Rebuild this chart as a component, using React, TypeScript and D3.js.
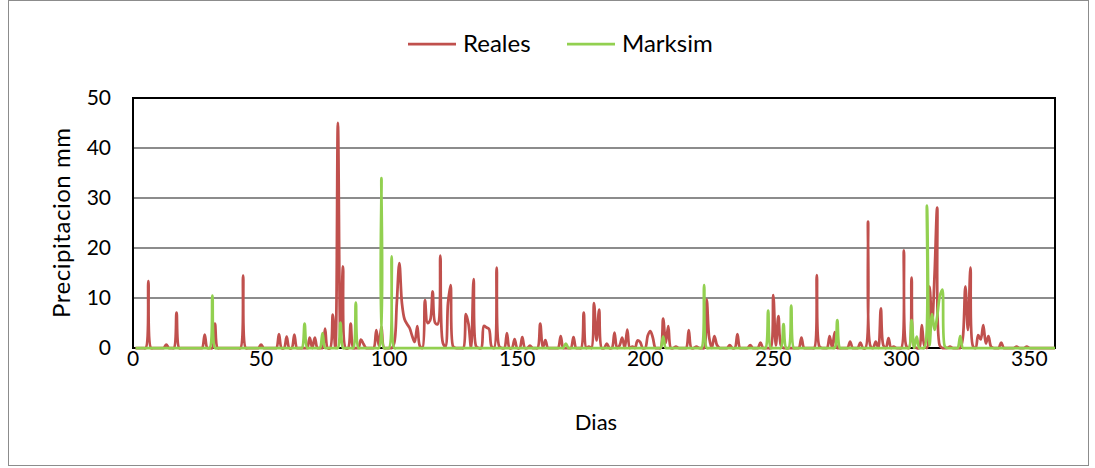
import React from "react";
import * as d3 from "d3";

// ---- Data ----
const xTicks = [0, 50, 100, 150, 200, 250, 300, 350];
const yTicks = [0, 10, 20, 30, 40, 50];
const seriesNames = ["Reales", "Marksim"];

// Days with rain (all other days are 0 mm)
const realesDays = [6, 13, 17, 28, 32, 43, 50, 57, 60, 63, 69, 71, 75, 78, 80, 81, 82, 85, 89, 90, 95, 96, 97, 102, 103, 104, 105, 106, 107, 108, 109, 110, 111, 112, 114, 115, 116, 117, 118, 119, 120, 121, 122, 123, 124, 125, 130, 131, 133, 134, 137, 138, 139, 140, 142, 143, 146, 149, 152, 155, 159, 161, 167, 172, 176, 178, 180, 181, 182, 185, 188, 190, 191, 193, 195, 197, 198, 201, 202, 203, 207, 208, 209, 212, 217, 220, 224, 225, 227, 228, 233, 236, 241, 245, 250, 251, 252, 253, 261, 267, 268, 272, 274, 280, 284, 287, 288, 290, 292, 293, 295, 297, 301, 302, 304, 305, 308, 309, 311, 312, 313, 314, 315, 319, 324, 325, 326, 327, 328, 330, 331, 332, 333, 334, 335, 339, 345, 349];
const realesMm = [13.4, 0.7, 7.1, 2.7, 4.9, 14.5, 0.7, 2.8, 2.3, 2.7, 2.1, 2.1, 3.9, 6.7, 45, 2, 16.3, 4.9, 1.7, 0.8, 3.6, 0.5, 4.3, 1, 9, 17, 9, 5.8, 4.8, 4, 2.4, 1.2, 4.4, 0.4, 9.6, 5, 5.5, 11.3, 5, 4.8, 18.5, 1, 0.3, 9, 12.6, 0.3, 6.8, 4.8, 13.8, 0.3, 4.4, 4.1, 3.8, 0.3, 16.1, 0.3, 3, 1.8, 2.2, 0.5, 4.9, 1.6, 2.4, 2.2, 7.1, 0.3, 9, 1.5, 7.7, 0.9, 3.1, 0.5, 2.1, 3.7, 0.3, 1.5, 1.2, 2.5, 3.4, 2, 5.9, 1, 4.4, 0.3, 3.6, 0.3, 9.7, 2, 2.4, 0.6, 0.6, 2.8, 0.6, 1.1, 10.6, 0.5, 6.4, 0.5, 2.1, 14.6, 0.3, 2.4, 3.2, 1.3, 1.1, 25.3, 0.3, 1.3, 7.9, 0.5, 2, 0.3, 19.5, 0.3, 14.1, 0.3, 4.6, 0.5, 12.3, 4.9, 15, 28.1, 0.5, 0.3, 2, 12.3, 3.6, 16.1, 0.3, 2.6, 1.7, 4.6, 0.9, 2.4, 0.3, 1.1, 0.3, 0.3];

const marksimDays = [31, 67, 74, 81, 87, 97, 101, 169, 207, 223, 248, 254, 257, 275, 304, 306, 310, 311, 312, 313, 314, 315, 316, 317, 323];
const marksimMm = [10.5, 4.9, 3, 5.1, 9.1, 34, 18.3, 0.9, 2.3, 12.6, 7.5, 4.8, 8.5, 5.6, 5.6, 2.3, 28.5, 0.5, 6.8, 3.6, 6.3, 10.3, 11.7, 0.3, 2.4];

const lastDay = 365;

function daily(days: number[], mm: number[]) {
  const m = new Map<number, number>();
  days.forEach((d, i) => m.set(d, mm[i]));
  return d3.range(1, lastDay + 1).map((d) => ({ day: d, mm: m.get(d) ?? 0 }));
}

const W = 1095;
const H = 468;
const margin = { left: 133, right: 1055, top: 98, bottom: 348 };
const FONT = "Lato, 'Open Sans', sans-serif";
const RED = "#C0504D";
const GREEN = "#92D050";

export default function App() {
  const x = d3.scaleLinear().domain([0, 360]).range([margin.left, margin.right]);
  const y = d3.scaleLinear().domain([0, 50]).range([margin.bottom, margin.top]);
  const line = d3
    .line<{ day: number; mm: number }>()
    .x((d) => x(d.day))
    .y((d) => y(d.mm))
    .curve(d3.curveCatmullRom.alpha(0.5));

  const reales = daily(realesDays, realesMm);
  const marksim = daily(marksimDays, marksimMm);
  const colors = [RED, GREEN];

  return (
    <svg
      width={W}
      height={H}
      style={{ position: "absolute", left: 0, top: 0, background: "#fff" }}
      fontFamily={FONT}
    >
      <rect x={8.5} y={0.5} width={1080} height={465} fill="#fff" stroke="#8c8c8c" strokeWidth={1} />
      <defs>
        <clipPath id="plotClip">
          <rect x={margin.left} y={margin.top - 2} width={margin.right - margin.left} height={margin.bottom - margin.top + 4} />
        </clipPath>
      </defs>
      {/* grid */}
      {yTicks
        .filter((t) => t > 0 && t < 50)
        .map((t) => (
          <line key={t} x1={margin.left} x2={margin.right} y1={y(t)} y2={y(t)} stroke="#8c8c8c" strokeWidth={2} />
        ))}
      {/* plot border */}
      <rect
        x={margin.left}
        y={margin.top}
        width={margin.right - margin.left}
        height={margin.bottom - margin.top}
        fill="none"
        stroke="#000"
        strokeWidth={2}
      />
      {/* series */}
      <g clipPath="url(#plotClip)">
        <path d={line(reales) || ""} fill="none" stroke={RED} strokeWidth={2.75} strokeLinejoin="round" />
        <path d={line(marksim) || ""} fill="none" stroke={GREEN} strokeWidth={2.75} strokeLinejoin="round" />
      </g>
      {/* y tick labels */}
      {yTicks.map((t) => (
        <text key={t} x={111} y={y(t)} dy="0.35em" textAnchor="end" fontSize={21} fill="#000">
          {t}
        </text>
      ))}
      {/* x tick labels */}
      {xTicks.map((t) => (
        <text key={t} x={x(t)} y={359} dy="0.35em" textAnchor="middle" fontSize={21} fill="#000">
          {t}
        </text>
      ))}
      {/* axis titles */}
      <text x={596} y={422} dy="0.35em" textAnchor="middle" fontSize={22} fill="#000">
        Dias
      </text>
      <text
        transform={`translate(62,223) rotate(-90)`}
        dy="0.35em"
        textAnchor="middle"
        fontSize={24}
        textLength={190}
        lengthAdjust="spacing"
        fill="#000"
      >
        Precipitacion mm
      </text>
      {/* legend */}
      {seriesNames.map((n, i) => {
        const lx = i === 0 ? 408 : 567;
        return (
          <g key={n}>
            <line x1={lx} x2={lx + 48} y1={44} y2={44} stroke={colors[i]} strokeWidth={2.75} />
            <text x={lx + 55} y={44} dy="0.35em" fontSize={24} fill="#000">
              {n}
            </text>
          </g>
        );
      })}
    </svg>
  );
}
